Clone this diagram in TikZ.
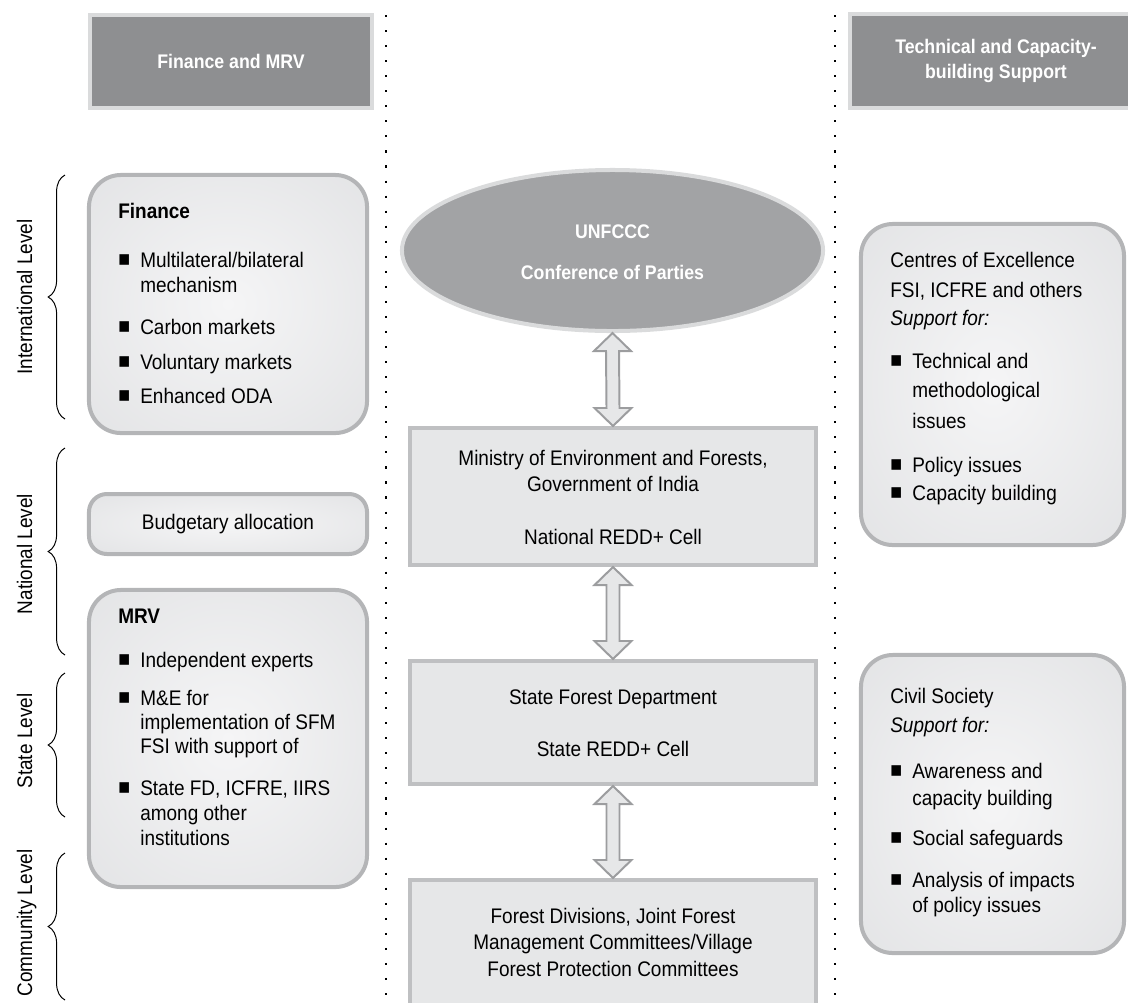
\documentclass[tikz,border=0pt]{standalone}
\usepackage{fontspec}
\setmainfont{Liberation Sans}[FakeStretch=0.9]
\usetikzlibrary{calc,decorations.pathreplacing,shapes.geometric}

\definecolor{headgray}{HTML}{8E8F91}
\definecolor{headrim}{HTML}{DADBDC}
\definecolor{ovalgray}{HTML}{A2A3A5}
\definecolor{boxfill}{HTML}{E6E7E8}
\definecolor{boxrim}{HTML}{BFC0C2}
\definecolor{roundrim}{HTML}{B4B5B7}
\definecolor{arrowrim}{HTML}{9C9D9F}
\definecolor{glowin}{HTML}{F5F5F6}
\definecolor{glowout}{HTML}{DCDDDF}
\pgfdeclareradialshading{glow}{\pgfpointorigin}{color(0bp)=(glowin); color(50bp)=(glowout); color(75bp)=(glowout)}

\tikzset{
  head/.style={draw=headrim, fill=headgray, line width=0.1cm, inner sep=0pt, text=white,
    align=center, font=\fontsize{14}{17.8}\selectfont\bfseries},
  panel/.style={draw=roundrim, line width=0.1cm, rounded corners=0.8cm, shade, shading=glow, inner sep=0pt},
  level/.style={draw=boxrim, fill=boxfill, line width=0.1cm, inner sep=0pt},
  txt/.style={anchor=base west, inner sep=0pt},
  ctxt/.style={anchor=base, inner sep=0pt},
  wtxt/.style={ctxt, text=white, font=\fontsize{14}{17}\selectfont\bfseries},
  side/.style={rotate=90, anchor=base, inner sep=0pt},
  dots/.style={line width=1.5pt, dash pattern=on 1.5pt off 9.2pt},
  curly/.style={decorate, decoration={brace, amplitude=0.42cm}, line width=0.7pt},
  twoway/.style={draw=arrowrim, fill=boxfill, line width=1.4pt, line join=miter}
}
\newcommand\blt{\makebox[0.55cm][l]{\raisebox{0.6pt}{\fontsize{15.5}{15.5}\selectfont ■}}}
\newcommand\ind{\hspace*{0.55cm}}
\newcommand\twoarrow[2]{\draw[twoway] (#1.south) -- ++(18.5,18) -- ++(-12,0)
  -- ($(#2.north)+(6.5,-18)$) -- ++(12,0) -- (#2.north) -- ++(-18.5,-18) -- ++(12,0)
  -- ($(#1.south)+(-6.5,18)$) -- ++(-12,0) -- cycle;}

\begin{document}
\begin{tikzpicture}[x=0.025cm, y=-0.025cm, font=\fontsize{15}{18}\selectfont]
\useasboundingbox (0,0) rectangle (1128,1002);

% column rules
\coordinate (ltop) at (386,15);
\coordinate (lbot) at (386,1002);
\coordinate (rtop) at (835,15);
\coordinate (rbot) at (835,1002);
\draw[dots] (ltop) -- (lbot);
\draw[dots] (rtop) -- (rbot);

% headers
\node[head, minimum width=7.05cm, minimum height=2.325cm] (finhead) at (231,61.5) {Finance and MRV};
\node[head, minimum width=7.3cm, minimum height=2.35cm] (techhead) at (996,61) {Technical and Capacity-\\building Support};

% levels
\coordinate (intlo) at (65,419);
\coordinate (inthi) at (65,175);
\coordinate (natlo) at (65,655);
\coordinate (nathi) at (65,448);
\coordinate (stalo) at (65,817);
\coordinate (stahi) at (65,673);
\coordinate (comlo) at (65,1000);
\coordinate (comhi) at (65,853);
\draw[curly] (intlo) -- (inthi);
\draw[curly] (natlo) -- (nathi);
\draw[curly] (stalo) -- (stahi);
\draw[curly] (comlo) -- (comhi);
\node[side] (intlab) at (32,297) {International Level};
\node[side] (natlab) at (32,554) {National Level};
\node[side] (stalab) at (32,741) {State Level};
\node[side] (comlab) at (32,923) {Community Level};

% centre column
\node[ellipse, draw=headrim, fill=ovalgray, line width=0.1cm, minimum width=10.525cm,
  minimum height=4.025cm, inner sep=0pt] (cop) at (612.5,250.5) {};
\node[wtxt] (unfccc) at (612.5,238) {UNFCCC};
\node[wtxt] (copname) at (612.5,279) {Conference of Parties};

\node[level, minimum width=10.15cm, minimum height=3.425cm] (moef) at (613,496.5) {};
\node[ctxt] (moef1) at (613,465) {Ministry of Environment and Forests,};
\node[ctxt] (moef2) at (613,491) {Government of India};
\node[ctxt] (moef3) at (613,544) {National REDD+ Cell};

\node[level, minimum width=10.15cm, minimum height=3.075cm] (sfd) at (613,722.5) {};
\node[ctxt] (sfd1) at (613,704) {State Forest Department};
\node[ctxt] (sfd2) at (613,756) {State REDD+ Cell};

\node[level, minimum width=10.15cm, minimum height=3.95cm] (jfm) at (613,959) {};
\node[ctxt] (jfm1) at (613,923) {Forest Divisions, Joint Forest};
\node[ctxt] (jfm2) at (613,949) {Management Committees/Village};
\node[ctxt] (jfm3) at (613,976) {Forest Protection Committees};

\twoarrow{cop}{moef}
\twoarrow{moef}{sfd}
\twoarrow{sfd}{jfm}

% finance and MRV
\node[panel, minimum width=6.95cm, minimum height=6.45cm] (fin) at (228,304) {};
\node[txt, font=\fontsize{15}{18}\selectfont\bfseries] (fin0) at (118,218) {Finance};
\node[txt] (fin1) at (118,267) {\blt Multilateral/bilateral};
\node[txt] (fin2) at (118,292) {\ind mechanism};
\node[txt] (fin3) at (118,334) {\blt Carbon markets};
\node[txt] (fin4) at (118,369) {\blt Voluntary markets};
\node[txt] (fin5) at (118,403) {\blt Enhanced ODA};

\node[panel, rounded corners=0.45cm, minimum width=6.95cm, minimum height=1.5cm] (budget) at (228,524) {Budgetary allocation};

\node[panel, minimum width=6.95cm, minimum height=7.425cm] (mrv) at (228,738.5) {};
\node[txt, font=\fontsize{15}{18}\selectfont\bfseries] (mrv0) at (118,623) {MRV};
\node[txt] (mrv1) at (118,667) {\blt Independent experts};
\node[txt] (mrv2) at (118,705) {\blt M\&E for};
\node[txt] (mrv3) at (118,729) {\ind implementation of SFM};
\node[txt] (mrv4) at (118,753) {\ind FSI with support of};
\node[txt] (mrv5) at (118,795) {\blt State FD, ICFRE, IIRS};
\node[txt] (mrv6) at (118,820) {\ind among other};
\node[txt] (mrv7) at (118,845) {\ind institutions};

% technical support
\node[panel, minimum width=6.575cm, minimum height=8.025cm] (coe) at (992.5,384.5) {};
\node[txt] (coe1) at (890,267) {Centres of Excellence};
\node[txt] (coe2) at (890,297) {FSI, ICFRE and others};
\node[txt] (coe3) at (890,325) {\itshape Support for:};
\node[txt] (coe4) at (890,368) {\blt Technical and};
\node[txt] (coe5) at (890,397) {\ind methodological};
\node[txt] (coe6) at (890,428) {\ind issues};
\node[txt] (coe7) at (890,472) {\blt Policy issues};
\node[txt] (coe8) at (890,500) {\blt Capacity building};

\node[panel, minimum width=6.575cm, minimum height=7.45cm] (cso) at (992.5,804) {};
\node[txt] (cso1) at (890,703) {Civil Society};
\node[txt] (cso2) at (890,732) {\itshape Support for:};
\node[txt] (cso3) at (890,778) {\blt Awareness and};
\node[txt] (cso4) at (890,805) {\ind capacity building};
\node[txt] (cso5) at (890,845) {\blt Social safeguards};
\node[txt] (cso6) at (890,887) {\blt Analysis of impacts};
\node[txt] (cso7) at (890,912) {\ind of policy issues};
\end{tikzpicture}
\end{document}
